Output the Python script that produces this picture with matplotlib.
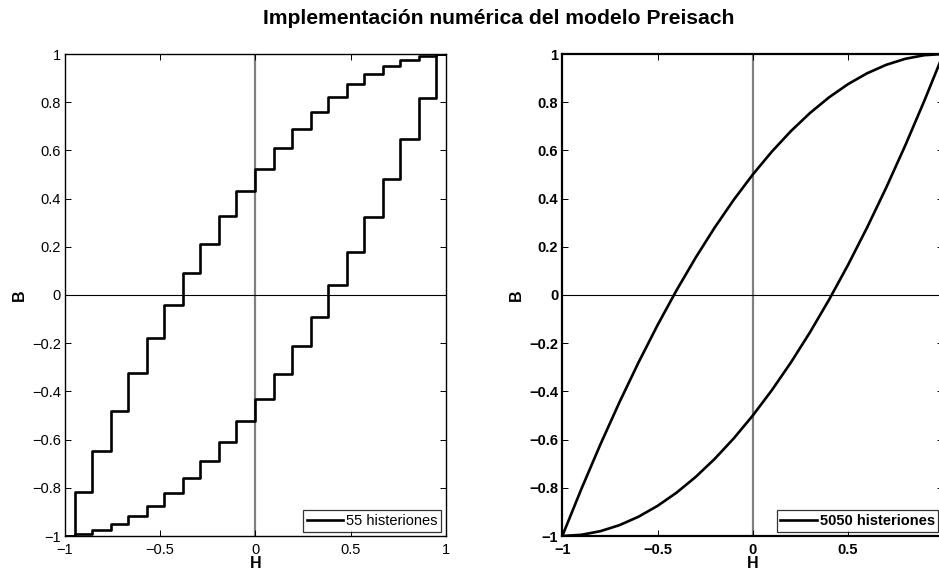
import matplotlib
matplotlib.use("Agg")
import matplotlib.pyplot as plt
from matplotlib.ticker import FuncFormatter

plt.rcParams['font.family'] = ['Liberation Sans', 'DejaVu Sans']

# ---- Left: 55 hysterons (staircase) ----
thresholds_55 = [-0.95, -0.86, -0.76, -0.67, -0.57, -0.48, -0.38, -0.29, -0.19, -0.10, 0.0,
                 0.10, 0.19, 0.29, 0.38, 0.48, 0.57, 0.67, 0.76, 0.86, 0.95]
upper_55 = [-1.0, -0.818, -0.646, -0.481, -0.325, -0.178, -0.040, 0.091, 0.213, 0.327, 0.431,
            0.524, 0.612, 0.690, 0.760, 0.820, 0.874, 0.917, 0.952, 0.976, 0.993, 1.0]
lower_55 = [-1.0, -0.993, -0.976, -0.952, -0.917, -0.874, -0.820, -0.760, -0.690, -0.612, -0.524,
            -0.431, -0.327, -0.213, -0.091, 0.040, 0.178, 0.325, 0.481, 0.646, 0.818, 1.0]

# ---- Right: 5050 hysterons (near-smooth) ----
H_5050 = [-1.0, -0.9, -0.8, -0.7, -0.6, -0.5, -0.4, -0.3, -0.2, -0.1, 0.0,
          0.1, 0.2, 0.3, 0.4, 0.5, 0.6, 0.7, 0.8, 0.9, 1.0]
upper_5050 = [-1.0, -0.805, -0.62, -0.445, -0.28, -0.125, 0.02, 0.155, 0.28, 0.395, 0.5,
              0.595, 0.68, 0.755, 0.82, 0.875, 0.92, 0.955, 0.98, 0.995, 1.0]
lower_5050 = [-1.0, -0.995, -0.98, -0.955, -0.92, -0.875, -0.82, -0.755, -0.68, -0.595, -0.5,
              -0.395, -0.28, -0.155, -0.02, 0.125, 0.28, 0.445, 0.62, 0.805, 1.0]

x_ticks = [-1, -0.5, 0, 0.5, 1]
y_ticks = [-1, -0.8, -0.6, -0.4, -0.2, 0, 0.2, 0.4, 0.6, 0.8, 1]

W, Hh = 939, 570
fig = plt.figure(figsize=(W / 100, Hh / 100), dpi=100)

def fmt(v, pos):
    if abs(v) < 1e-9:
        return "0"
    s = ("%g" % v)
    return s.replace("-", "\u2212")

def fmt_right_x(v, pos):
    # the "1" label falls outside the visible picture in the reference
    if v > 0.99:
        return ""
    return fmt(v, pos)

def px_axes(x0, x1, y0, y1):
    return fig.add_axes([x0 / W, 1 - y1 / Hh, (x1 - x0) / W, (y1 - y0) / Hh])

def style(ax, bold, spine_lw, xformatter):
    ax.set_xlim(-1, 1)
    ax.set_ylim(-1, 1)
    ax.set_xticks(x_ticks)
    ax.set_yticks(y_ticks)
    ax.xaxis.set_major_formatter(FuncFormatter(xformatter))
    ax.yaxis.set_major_formatter(FuncFormatter(fmt))
    ax.tick_params(direction='in', top=True, right=True, length=4, width=0.7,
                   labelsize=10.5)
    ax.tick_params(axis='x', pad=5)
    ax.tick_params(axis='y', pad=3)
    w = 'bold' if bold else 'normal'
    for lab in ax.get_xticklabels() + ax.get_yticklabels():
        lab.set_fontweight(w)
    for s in ax.spines.values():
        s.set_linewidth(spine_lw)
    ax.set_xlabel('H', fontsize=11.5, fontweight='bold', labelpad=-1)
    ax.set_ylabel('B', fontsize=11.5, fontweight='bold', labelpad=3.5)
    ax.axvline(0, color='#808080', lw=1.6, zorder=1)
    ax.axhline(0, color='black', lw=0.8, zorder=1)

# Left axes
ax1 = px_axes(65, 445.7, 54, 536)
style(ax1, False, 1.0, fmt)
edges = [-1.0] + thresholds_55 + [1.0]
ax1.plot(edges, upper_55 + [upper_55[-1]], drawstyle='steps-post', color='black', lw=1.9,
         label='55 histeriones', zorder=3)
ax1.plot(edges, lower_55 + [lower_55[-1]], drawstyle='steps-post', color='black', lw=1.9,
         zorder=3)
leg1 = ax1.legend(loc='lower right', fontsize=10.5, frameon=True, fancybox=False,
                  edgecolor='black', borderpad=0.25, handlelength=2.5, handletextpad=0.2,
                  borderaxespad=0.3)
leg1.get_frame().set_linewidth(0.9)

# Right axes (extends slightly past figure edge)
ax2 = px_axes(562.3, 943.3, 54, 536)
style(ax2, True, 1.6, fmt_right_x)
ax2.plot(H_5050, upper_5050, color='black', lw=1.9, label='5050 histeriones', zorder=3)
ax2.plot(H_5050, lower_5050, color='black', lw=1.9, zorder=3)
leg2 = ax2.legend(loc='lower right', prop={'size': 10.5, 'weight': 'bold'}, frameon=True,
                  fancybox=False, edgecolor='black', borderpad=0.25, handlelength=2.5,
                  handletextpad=0.2, borderaxespad=0.3, bbox_to_anchor=(0.9985, 0.0))
leg2.get_frame().set_linewidth(0.9)

fig.text(498.5 / W, 1 - 19 / Hh, 'Implementación numérica del modelo Preisach',
         ha='center', va='center', fontsize=15.2, fontweight='bold')

fig.savefig('out.png', dpi=100)
